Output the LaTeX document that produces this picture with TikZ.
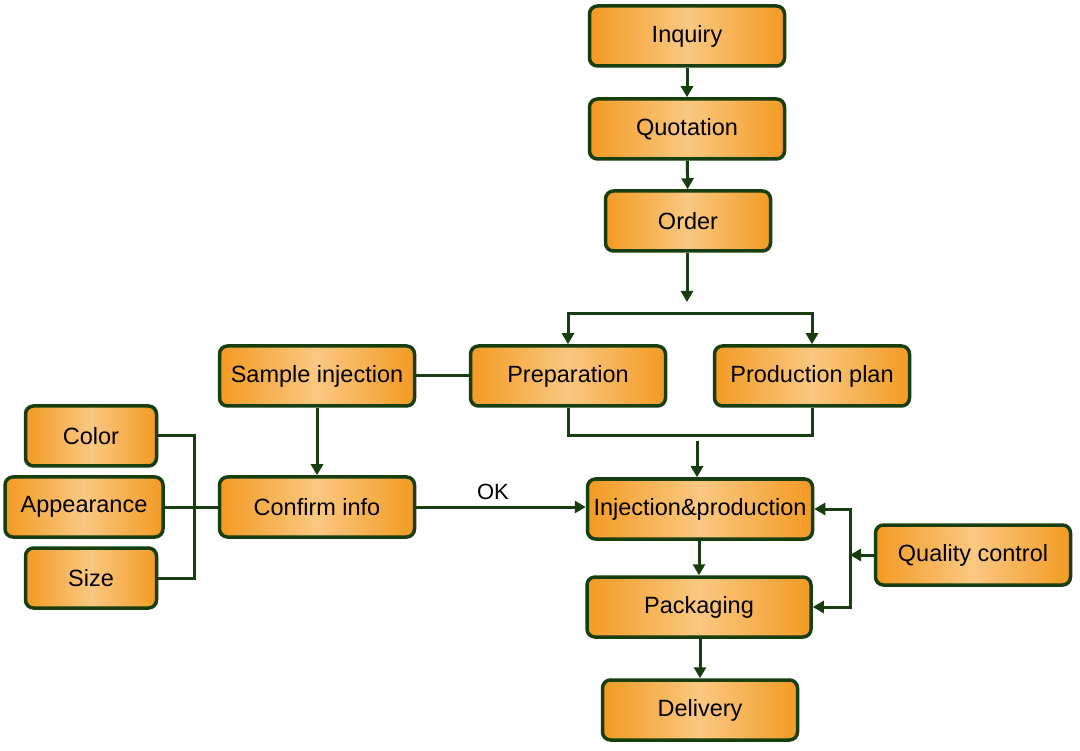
\documentclass[tikz,border=0pt]{standalone}
\usepackage{fontspec}
\setmainfont{Liberation Sans}
\definecolor{boxorange}{RGB}{243, 155, 35}
\definecolor{boxlight}{RGB}{250, 200, 130}
\definecolor{darkgreen}{RGB}{22, 62, 14}
\usepackage{tikz}
\usetikzlibrary{arrows.meta}

\begin{document}
\begin{tikzpicture}[
  x=1pt, y=-1pt,
  box/.style={rectangle, rounded corners=8pt, draw=darkgreen,
              line width=3.5pt, left color=boxorange,
              right color=boxorange, middle color=boxlight,
              minimum width=195pt, minimum height=60pt,
              inner sep=2pt, font=\fontsize{23.5}{28}\selectfont},
  link/.style={draw=darkgreen, line width=3pt},
  arr/.style={link, -{Triangle[length=11pt, width=12pt]}},
]
\useasboundingbox (0,0) rectangle (1080,751);

% Order handling
\node[box] (inquiry) at (687,36) {Inquiry};
\node[box] (quote) at (687,129) {Quotation};
\node[box, minimum width=165pt] (order) at (688,221) {Order};

% Planning
\node[box] (prep) at (568,376) {Preparation};
\node[box] (plan) at (812,376) {Production plan};
\node[box] (sample) at (317,376) {Sample injection};
\node[box] (confirm) at (317,507) {Confirm info};

% Checked properties
\node[box, minimum width=131pt] (color) at (91,436) {Color};
\node[box, minimum width=158pt] (look) at (84,507) {Appearance};
\node[box, minimum width=131pt] (size) at (91,578) {Size};

% Production
\node[box, minimum width=225pt] (inject) at (700,509) {Injection\&production};
\node[box, minimum width=224pt] (pack) at (699,607) {Packaging};
\node[box] (deliver) at (700,710) {Delivery};
\node[box] (qc) at (973,555) {Quality control};

% Helper points
\coordinate (orderend) at (687,302);
\coordinate (fork) at (687,314);
\coordinate (merge) at (697,441);
\coordinate (qcbus) at (850,555);

% Main flow
\draw[arr] (inquiry) -- (quote);
\draw[arr] (quote) -- (order);
\draw[arr] (order.south -| orderend) -- (orderend);
\draw[arr] (fork) -| (prep.north);
\draw[arr] (fork) -| (plan.north);
\draw[link] (prep.south) -- ++(0,28) -| (plan.south);
\draw[arr] (merge) -- (merge |- inject.north);
\draw[arr] (inject.south -| pack) -- (pack);
\draw[arr] (pack.south -| deliver) -- (deliver);

% Sample branch
\draw[link] (sample) -- (prep);
\draw[arr] (sample) -- (confirm);
\draw[link] (color.east) -| (194,578) -- (size.east);
\draw[link] (look) -- (confirm);
\draw[arr] (confirm) -- node[above=2pt, xshift=-8pt, font=\fontsize{22}{26}\selectfont] {OK}
  (inject.west |- confirm);

% Quality control
\draw[arr] (qc) -- (qcbus);
\draw[arr] (qcbus) |- (inject.east);
\draw[arr] (qcbus) |- (pack.east);
\end{tikzpicture}
\end{document}
